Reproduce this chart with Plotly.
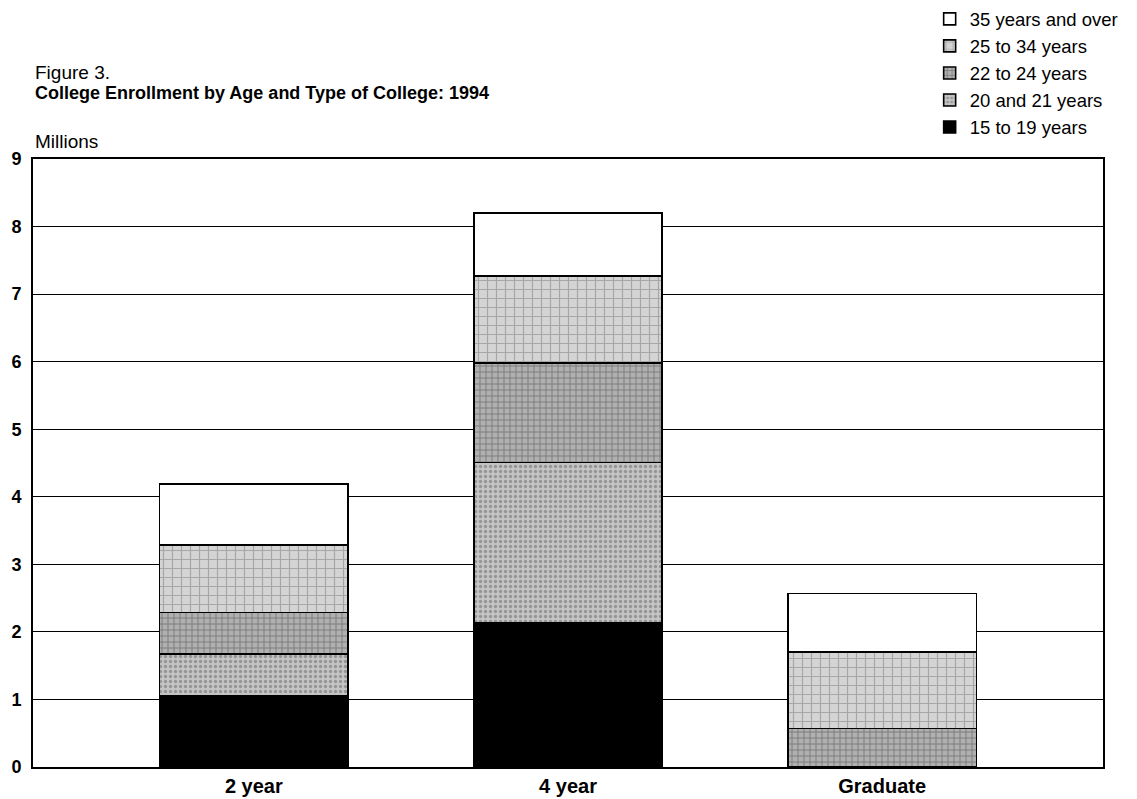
import plotly.graph_objects as go

categories = ["2 year", "4 year", "Graduate"]
age_groups = ["15 to 19 years", "20 and 21 years", "22 to 24 years", "25 to 34 years", "35 years and over"]
v_15_19 = [1.06, 2.13, 0.0]
v_20_21 = [0.61, 2.38, 0.0]
v_22_24 = [0.62, 1.47, 0.57]
v_25_34 = [1.00, 1.29, 1.13]
v_35_over = [0.90, 0.93, 0.87]
y_ticks = [0, 1, 2, 3, 4, 5, 6, 7, 8, 9]

series = [v_15_19, v_20_21, v_22_24, v_25_34, v_35_over]
styles = [
    dict(color="#000000"),
    dict(color="#c4c4c4", pattern=dict(shape=".", bgcolor="#c4c4c4", fgcolor="#666666", size=5, solidity=0.35)),
    dict(color="#a8a8a8", pattern=dict(shape="+", bgcolor="#b0b0b0", fgcolor="#4a4a4a", size=6, solidity=0.3)),
    dict(color="#d4d4d4", pattern=dict(shape="+", bgcolor="#d4d4d4", fgcolor="#7a7a7a", size=9, solidity=0.25)),
    dict(color="#ffffff"),
]

FONT = "Liberation Sans, Arial, sans-serif"
fig = go.Figure()
for name, vals, st in zip(age_groups, series, styles):
    marker = dict(line=dict(color="#000000", width=1.6))
    marker.update(st)
    fig.add_trace(go.Bar(x=[0, 1, 2], y=vals, name=name, marker=marker, width=0.6))

# page body has an 8px default margin, so the figure is sized to fit the window
fig.update_layout(
    barmode="stack",
    width=1129, height=791,
    margin=dict(l=25, r=34, t=151, b=32, autoexpand=False),
    paper_bgcolor="white", plot_bgcolor="white",
    font=dict(family=FONT, color="black"),
    showlegend=True,
    legend=dict(traceorder="reversed", x=0.838, y=1.261, xanchor="left", yanchor="top",
                font=dict(size=18.5, family=FONT), bgcolor="rgba(0,0,0,0)", tracegroupgap=0),
    xaxis=dict(range=[-0.703, 2.703], tickmode="array", tickvals=[0, 1, 2], ticktext=categories,
               showgrid=False, showline=True, linecolor="black", linewidth=2, mirror=True, automargin=False,
               ticks="", tickfont=dict(size=20, family=FONT, weight="bold"), zeroline=False),
    yaxis=dict(range=[0, 9], tickmode="array", tickvals=y_ticks, automargin=False,
               showgrid=True, gridcolor="black", gridwidth=1.3,
               showline=True, linecolor="black", linewidth=2, mirror=True,
               ticks="", ticklabelstandoff=6, tickfont=dict(size=18, family=FONT, weight="bold"), zeroline=False),
    annotations=[
        dict(text="Figure 3.", xref="paper", yref="paper", x=0.0, y=(767 - 73) / 608,
             xanchor="left", yanchor="middle", showarrow=False, font=dict(size=19, family=FONT)),
        dict(text="<b>College Enrollment by Age and Type of College: 1994</b>", xref="paper", yref="paper",
             x=0.0, y=(767 - 93) / 608, xanchor="left", yanchor="middle", showarrow=False,
             font=dict(size=18, family=FONT)),
        dict(text="Millions", xref="paper", yref="paper", x=0.0, y=(767 - 141) / 608,
             xanchor="left", yanchor="middle", showarrow=False, font=dict(size=19, family=FONT)),
    ],
)

fig.write_html("out.html")
